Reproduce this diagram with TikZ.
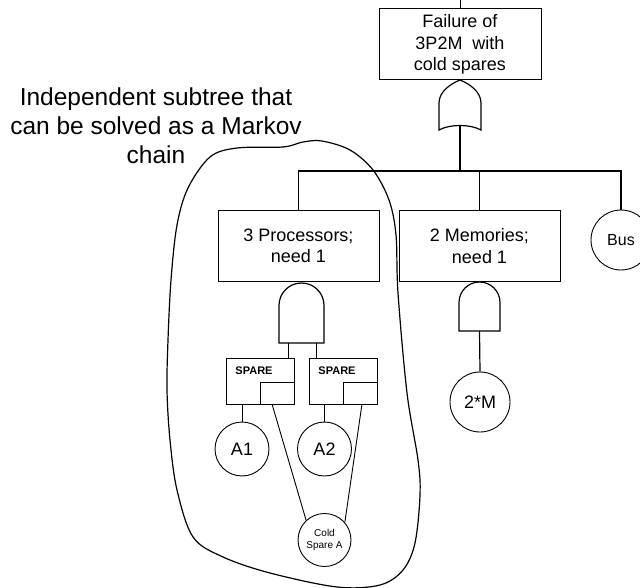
\documentclass[tikz,border=0pt]{standalone}
\usepackage{fontspec}
\setmainfont{Liberation Sans}
\begin{document}
\begin{tikzpicture}[x=1pt,y=-1pt,line width=1.2pt,
  tbox/.style={draw,rectangle,minimum width=161pt,minimum height=70pt,align=center,inner sep=0pt,line width=1pt,font=\fontsize{18}{21.5}\selectfont},
  ev/.style={draw,circle,inner sep=0pt,line width=0.9pt,font=\fontsize{18}{21}\selectfont},
  spbox/.style={draw,rectangle,minimum width=68pt,minimum height=46pt,inner sep=0pt,line width=0.9pt},
  spin/.style={draw,rectangle,minimum width=34pt,minimum height=22pt,inner sep=0pt,line width=0.9pt},
  splbl/.style={inner sep=0pt,font=\fontsize{11}{13}\selectfont\bfseries},
  thin line/.style={line width=0.9pt}]
  \useasboundingbox (0,0) rectangle (640,588);
  \node[tbox,minimum width=162pt,minimum height=71pt] (top) at (460,44.5) {Failure of\\3P2M~ with\\cold spares};
  \coordinate (topin) at (460,0);
  \draw[thin line] (topin) -- (top.north);
  \draw (439,130) -- (439,103) .. controls (439,92) and (450,84) .. (460,80) .. controls (470,84) and (481,92) .. (481,103) -- (481,130) .. controls (470,124) and (450,124) .. (439,130) -- cycle;
  \coordinate (orout) at (460,126);
  \coordinate (bar) at (460,171);
  \draw (orout) -- (bar);
  \node[tbox] (proc) at (298.5,246) {3 Processors;\\need 1};
  \node[tbox] (mem) at (479.5,246) {2 Memories;\\need 1};
  \node[ev,minimum size=60pt,font=\fontsize{16}{19}\selectfont] (bus) at (621,240) {Bus};
  \draw (proc.north) -- (proc.north |- bar) -- (bus.north |- bar) -- (bus.north);
  \draw (mem.north) -- (mem.north |- bar);
  \draw (279,343) -- (279,305.5) .. controls (279,293) and (289,283) .. (301.5,283) .. controls (314,283) and (324,293) .. (324,305.5) -- (324,343) -- cycle;
  \draw (459,331) -- (459,302.5) .. controls (459,291.2) and (468.2,282) .. (479.5,282) .. controls (490.8,282) and (500,291.2) .. (500,302.5) -- (500,331) -- cycle;
  \node[spbox] (sp1) at (260,381) {};
  \node[spbox] (sp2) at (343,381) {};
  \node[spin,anchor=south east] (sp1in) at (sp1.south east) {};
  \node[spin,anchor=south east] (sp2in) at (sp2.south east) {};
  \node[splbl] (sp1lbl) at (254,371) {SPARE};
  \node[splbl] (sp2lbl) at (337,371) {SPARE};
  \coordinate (pin1) at (288,343);
  \coordinate (pin2) at (316,343);
  \draw[thin line] (pin1) -- (pin1 |- sp1.north);
  \draw[thin line] (pin2) -- (pin2 |- sp2.north);
  \node[ev,minimum size=54pt] (a1) at (242,449) {A1};
  \node[ev,minimum size=54pt] (a2) at (324.5,449) {A2};
  \node[ev,minimum size=53pt,align=center,font=\fontsize{10}{12.5}\selectfont] (cold) at (324.5,540) {Cold\\Spare A};
  \draw[thin line] (a1.north |- sp1.south) -- (a1.north);
  \draw[thin line] (a2.north |- sp2.south) -- (a2.north);
  \coordinate (s1) at (272,404);
  \coordinate (s2) at (362,404);
  \draw[thin line] (s1) -- (cold.133);
  \draw[thin line] (s2) -- (cold.41);
  \coordinate (mout) at (479.5,331);
  \node[ev,minimum size=60pt] (mm) at (480,402) {2*M};
  \draw (mout) -- (mm.north);
  \node[align=center,font=\fontsize{24.5}{29}\selectfont] (note) at (156,126) {Independent subtree that\\can be solved as a Markov\\chain};
  \draw plot[smooth cycle,tension=0.55] coordinates {(337,587) (270,573) (223,557) (193,537) (177,490) (170,440) (167,390) (168,340) (171,280) (177,225) (188,188) (210,157) (237,148) (283,147) (303,142) (322,141) (350,150) (373,170) (389,200) (396,235) (398,293) (407,393) (418,460) (420,495) (415,543) (403,570) (380,585)};
\end{tikzpicture}
\end{document}
